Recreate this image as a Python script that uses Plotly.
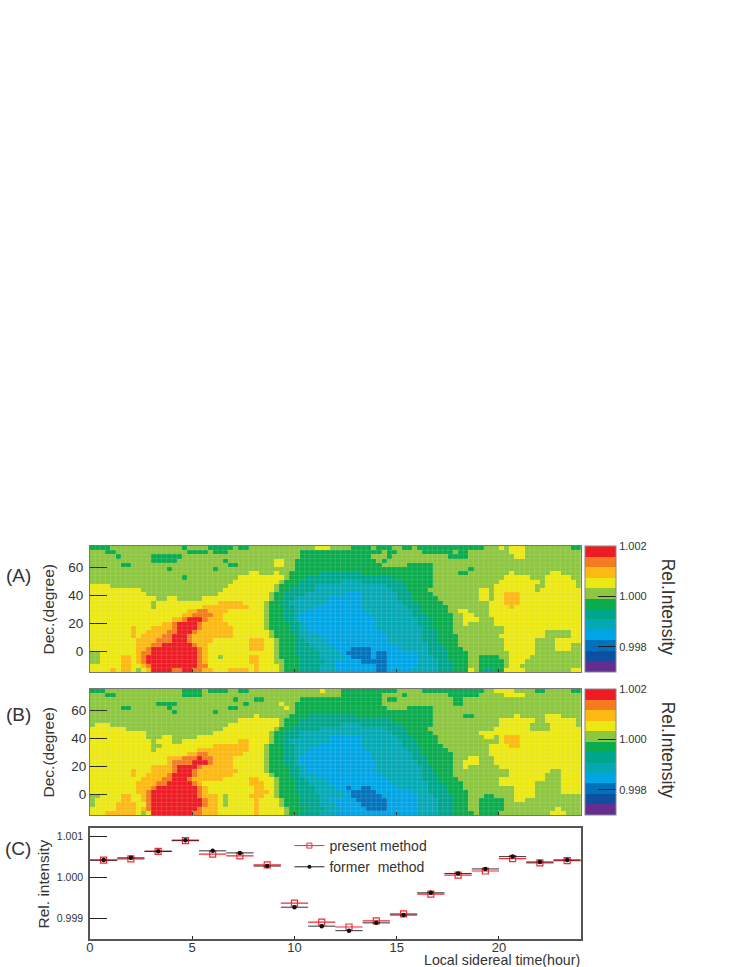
import plotly.graph_objects as go

W, H = 747, 967

LEVELS = "ROAYLGTCSMDP"
COLORS = ["#ed1c24", "#f47b20", "#fdb913", "#ece813", "#8dc63f", "#0aac4d",
          "#00a68c", "#05a9b5", "#00a5e5", "#0072bc", "#0d4fa0", "#662d91"]
Z_MIN, Z_MAX = 0.997, 1.002

ROWS_A = [
"G0 L4 G18 L19 G23 L28 G29 L31 Y44 L47 G51 L55 G56 L59 G61 L63 G64 L77 Y80 L81 Y82 L85 G94",
"L0 G3 L5 G19 L23 G24 L27 G41 L57 G58 L60 G65 L71 G72 L74 Y82 L85",
"L0 G5 L6 G12 L18 G41 L55 G58 L59 G70 L74 Y83 L85",
"L0 G12 L17 G26 L27 Y36 L38 G40 L56 G57 L58",
"L0 G6 L8 G27 L29 Y36 L38 G40 L57 G62 L67",
"L0 G15 L16 G24 L25 G40 L67 G74 L75",
"L0 Y31 L33 Y36 L37 G39 T45 G53 L67 G72 L74 Y82 L83 Y90 L92",
"L0 G18 L19 Y29 L38 G39 T42 G59 L67 Y81 L86 Y89 L94",
"L0 Y28 L37 G38 T41 C49 T53 G61 L67 Y80 L88 Y89 L95",
"Y0 L4 Y27 L36 G37 T40 C44 T58 G62 L67 Y79 L87 Y89 L95",
"Y0 L10 Y26 L36 G37 T39 C44 T59 G62 L66 Y76 L78 Y79 L87 Y88",
"Y0 L11 Y25 L35 G36 T38 C42 S50 C53 T60 G63 L67 Y76 L78 Y79 A81 Y84",
"Y0 L13 Y15 L17 Y22 L35 G36 T38 C40 S47 C53 T60 G63 L68 Y76 L78 Y79 A81 Y84",
"Y0 L12 Y13 A25 Y30 L34 G35 T37 C39 S46 C53 T61 G64 L69 Y78 A81 Y84",
"Y0 L12 Y13 A22 Y31 L34 G35 T38 C40 S44 C53 T62 G65 L70 Y78 A82 Y83",
"Y0 A19 O21 A23 Y27 L34 G35 T38 C40 S42 C54 T63 G65 L70 Y72 L74 Y78",
"Y0 A18 O20 A24 Y26 L34 G35 T38 C40 S41 C55 T63 G66 L71 Y73 L75 Y78",
"Y0 A16 O18 R19 O22 A23 Y26 L34 G35 T38 C40 S41 C56 T64 G67 L71 Y73 L76 Y79",
"Y0 A14 O16 R17 O21 A22 Y27 L34 G35 T39 C41 S42 C56 T64 G66 L71 Y73 L74 Y79",
"Y0 A8 Y9 A12 O16 R17 O21 A22 Y28 L34 G35 T39 C41 S42 C56 T65 G67 L71 Y81",
"Y0 A8 Y9 A11 O15 R17 O20 A21 Y28 L35 G36 T39 C41 S43 C57 T65 G68 L71 Y81 L89 Y94",
"Y0 A8 Y9 A10 O14 R16 O19 A20 Y28 L35 G36 T40 C41 S45 C58 T65 G68 L72 Y80 L89 Y94",
"Y0 A9 O13 R16 O19 A20 Y24 A31 Y34 L36 G37 T40 C42 S46 C58 T65 G68 L72 Y81 L87 Y91",
"Y0 A9 O12 R14 O20 A21 Y23 A31 Y34 L36 G37 T40 C43 S47 C60 T66 G69 L72 Y81 L87 Y91 L94",
"Y0 A9 O11 R12 O21 A22 Y23 A31 Y34 L36 G37 T40 C44 S48 M51 S55 C61 T66 G70 L73 Y81 L87 Y91 L94",
"L0 Y2 A9 O10 R12 O21 A22 Y23 L36 G37 T40 C45 S49 M50 S55 M56 S58 C64 T66 G70 L74 Y82 L87",
"L0 Y2 A6 Y8 A9 O10 R11 O21 A22 Y23 L25 Y26 A31 Y33 L36 G37 T41 C45 S50 M51 S55 M56 S58 C64 T67 G70 L74 G76 L80 Y82 L86",
"L0 Y2 A6 Y8 A9 O10 R11 O21 A22 Y23 A31 Y33 L36 G38 T41 C46 S48 M53 S58 C64 T68 G71 L74 G76 L81 Y82 L85",
"Y0 A6 Y8 A10 O11 R12 O21 Y23 A32 Y33 L37 G38 T41 C45 S48 M56 S58 C64 T68 G71 L74 G76 L81 Y82 L84",
"Y0 A4 Y5 A6 Y8 L9 Y10 A11 R12 O16 R18 O20 A22 Y24 A27 Y31 A32 Y33 L37 G38 T41 C45 S48 M56 S58 C63 T68 G71 Y74 L75 G76 T77 G79 Y81 L85 Y94",
]

ROWS_B = [
"G0 L3 G18 L22 G23 L27 G29 L31 Y45 L46 G49 L60 G65 L77 Y79 L83 G87 L89 G94",
"L0 G3 L5 G18 L22 G49 L57 G61 L62 G70 L76 Y81 L85",
"L0 G28 L29 G32 L34 G41 L57 G58 L60 G71 L73",
"L0 G13 L17 G30 L31 Y37 L38 G40 L57 G71 L73",
"L0 G6 L8 G15 L16 G27 L29 Y38 L39 G40 L58 G62 L67",
"L0 G16 L17 G24 L25 G40 L67",
"L0 Y32 L33 G39 T43 G52 L67 G73 L75 Y83 L84 Y89 L92",
"L0 Y29 L37 G38 T41 G59 L67 Y80 L87 Y89 L95",
"L0 Y1 L4 Y27 L37 G38 T40 C49 T53 G61 L67 Y80 L86 Y90 L95",
"Y0 L7 Y26 L36 G37 T39 C45 T58 G62 L66 Y79 L86 Y90",
"Y0 L11 Y24 L35 G36 T38 C41 T59 G62 L67 Y76",
"Y0 L11 Y14 L16 Y21 L35 G36 T38 C41 S47 C53 T60 G63 L68 Y77 L79 Y80 A81 Y84",
"Y0 L12 Y13 L16 Y18 A29 Y31 L35 G36 T37 C39 S47 C53 T61 G64 L68 Y80 A81 Y84",
"Y0 L12 Y14 A24 Y31 L34 G35 T38 C40 S45 C53 T61 G64 L69 Y78 A82 Y84",
"Y0 L12 Y13 A21 Y31 L34 G35 T38 C40 S43 C54 T62 G65 L70 Y78",
"Y0 A19 O21 A23 Y30 L34 G35 T38 C40 S42 C55 T63 G65 L71 Y78",
"Y0 A15 O18 R21 O22 A24 Y28 L34 G35 T38 C40 S41 C55 T63 G66 L71 Y74 L76 Y79",
"Y0 A15 O16 R20 O23 A24 Y28 L34 G35 T38 C40 S41 C56 T64 G66 L71 Y73 L76 Y79",
"Y0 A12 O16 R17 O21 A22 Y28 L34 G35 T39 C41 S42 C56 T65 G67 L71 Y73 L74 Y80",
"Y0 A8 Y9 A12 O16 R17 O20 A21 Y29 L34 G35 T39 C41 S42 C56 T65 G67 L71 Y82 L90 Y92",
"Y0 A8 Y9 A11 O15 R16 O20 A21 Y28 L35 G36 T39 C41 S44 C57 T65 G68 L71 Y82 L89 Y92",
"Y0 A10 O14 R16 O19 A20 Y26 A31 Y33 L36 G37 T40 C42 S46 C58 T65 G68 L72 Y80 L89 Y92",
"Y0 A9 O13 R15 O20 A21 Y22 A31 Y34 L36 G37 T40 C43 S47 C59 T66 G69 L73 Y80 L87 Y92",
"Y0 A9 O12 R13 O21 A22 Y23 A32 Y34 L36 G37 T40 C44 S48 M50 S51 M53 S55 C60 T66 G70 L73 Y83 L87 Y92",
"Y0 A9 O11 R12 O21 A22 Y23 A32 Y35 L36 G37 T40 C44 S49 M51 S56 C63 T66 G70 L74 Y83 L87 Y92",
"L0 Y2 A6 Y8 A10 O11 R12 O21 A22 Y25 L26 Y27 A31 Y34 L36 G37 T41 C45 S50 M51 S57 C64 T67 G71 L74 G77 L79 Y83 L87",
"L0 Y1 A6 Y8 A10 O11 R12 O22 A23 Y25 L26 Y27 A32 Y33 L37 G38 T41 C45 S47 M52 S58 C64 T68 G71 L74 G76 L81 Y83 L85",
"L0 Y1 A5 Y9 O11 R12 O22 A23 Y25 L26 Y27 A32 Y33 L37 G38 T41 C45 S48 M53 S58 C64 T68 G71 L74 G76 L81",
"Y0 A5 Y9 A10 O11 R12 O21 A22 Y25 A32 Y33 L38 G39 T42 C46 S49 M54 S58 C64 T68 G71 L74 G76 L81 Y91 L92",
"Y0 A3 Y9 L10 Y11 R12 O20 A22 Y25 A32 Y33 L38 G39 T41 C45 S48 C64 T68 G71 L75 G76 L80 Y90 L93",
]

LST_BINS = [0.667, 2.0, 3.333, 4.667, 6.0, 7.333, 8.667, 10.0, 11.333,
            12.667, 14.0, 15.333, 16.667, 18.0, 19.333, 20.667, 22.0, 23.333]
PRESENT = [1.000415, 1.000447, 1.000626, 1.000886, 1.00056, 1.00052, 1.0003, 0.99937, 0.99891,
           0.99879, 0.99894, 0.99911, 0.99959, 1.00005, 1.00015, 1.00045, 1.00035, 1.0004]
FORMER = [1.000415, 1.00047, 1.00063, 1.0009, 1.00064, 1.00059, 1.00027, 0.99927, 0.99881,
          0.9987, 0.99889, 0.99908, 0.99962, 1.00009, 1.0002, 1.0005, 1.00037, 1.00042]
BIN_HALF = 0.667

N_COLS, N_ROWS = 96, 30
band = (Z_MAX - Z_MIN) / len(LEVELS)


def X(px):
    return (px - 3.5) / 0.995 / W


def decode(rows):
    grid = []
    for row in rows:
        runs = [(p[0], int(p[1:])) for p in row.split()]
        values = [None] * N_COLS
        for k, (lev, start) in enumerate(runs):
            end = runs[k + 1][1] if k + 1 < len(runs) else N_COLS
            for c in range(start, end):
                values[c] = Z_MAX - (LEVELS.index(lev) + 0.5) * band
        grid.append(values)
    return grid


scale = []
n = len(COLORS)
for i, c in enumerate(reversed(COLORS)):
    scale += [[i / n, c], [(i + 1) / n, c]]

x_cells = [(i + 0.5) * 0.25 for i in range(N_COLS)]
y_cells = [75 - 1.5 - 3 * r for r in range(N_ROWS)]

L, R = 89.5, 580.5
PANELS = {"A": (546, 672), "B": (689, 815), "C": (828, 938.5)}


def dom(top, bot):
    return [1 - bot / H, 1 - top / H]


def cbar(top):
    return dict(x=X(585), xanchor="left", y=1 - top / H, yanchor="top",
                lenmode="pixels", len=126, thicknessmode="pixels", thickness=31,
                xpad=0, ypad=0, outlinecolor="#888", outlinewidth=1,
                tickvals=[0.998, 1.0, 1.002], ticktext=["0.998", "1.000", "1.002"],
                ticks="inside", ticklen=18, tickcolor="#222", tickwidth=1,
                tickfont=dict(size=11, color="#333", family="Liberation Sans"))


fig = go.Figure()
fig.add_trace(go.Heatmap(z=decode(ROWS_A), x=x_cells, y=y_cells, colorscale=scale, zmin=Z_MIN, zmax=Z_MAX,
                         xaxis="x", yaxis="y", colorbar=cbar(546)))
fig.add_trace(go.Heatmap(z=decode(ROWS_B), x=x_cells, y=y_cells, colorscale=scale, zmin=Z_MIN, zmax=Z_MAX,
                         xaxis="x2", yaxis="y2", colorbar=cbar(689)))

RED, BLK = "#ee2a35", "rgba(15,15,15,0.85)"
fig.add_trace(go.Scatter(x=LST_BINS, y=PRESENT, mode="markers", xaxis="x3", yaxis="y3", showlegend=False,
                         marker=dict(symbol="square-open", size=6, color=RED, line=dict(width=1.2, color=RED)),
                         error_x=dict(type="constant", value=BIN_HALF, color=RED, thickness=1.2, width=0)))
fig.add_trace(go.Scatter(x=LST_BINS, y=FORMER, mode="markers", xaxis="x3", yaxis="y3", showlegend=False,
                         marker=dict(symbol="circle", size=4.5, color="#111"),
                         error_x=dict(type="constant", value=BIN_HALF, color=BLK, thickness=1, width=0)))
fig.add_trace(go.Scatter(x=[None], y=[None], mode="lines+markers", name="present method", xaxis="x3", yaxis="y3",
                         line=dict(color=RED, width=1), marker=dict(symbol="square-open", size=5, color=RED)))
fig.add_trace(go.Scatter(x=[None], y=[None], mode="lines+markers", name="former  method", xaxis="x3", yaxis="y3",
                         line=dict(color="#222", width=1), marker=dict(symbol="circle", size=4, color="#111")))

FONT = "Liberation Sans"
thin = dict(showline=True, mirror=True, linecolor="#777", linewidth=1, showgrid=False, zeroline=False)
thick = dict(showline=True, mirror=True, linecolor="#555", linewidth=1.5, showgrid=False, zeroline=False)
xcommon = dict(range=[0, 24], tickvals=[0, 5, 10, 15, 20], ticks="inside", ticklen=3, tickcolor="#222",
               domain=[X(L), X(R)])
ycommon = dict(ticks="inside", ticklen=17, tickcolor="#222", tickwidth=1)
yfont = dict(size=13.5, color="#333", family=FONT)

fig.update_layout(
    width=W, height=H, margin=dict(l=0, r=0, t=0, b=0), paper_bgcolor="white", plot_bgcolor="white",
    font=dict(family=FONT, color="#333"),
    xaxis=dict(anchor="y", showticklabels=False, **xcommon, **thin),
    xaxis2=dict(anchor="y2", showticklabels=False, **xcommon, **thin),
    xaxis3=dict(anchor="y3", tickfont=dict(size=13, color="#333", family=FONT), ticklabelstandoff=-4, **xcommon, **thick),
    yaxis=dict(domain=dom(*PANELS["A"]), anchor="x", range=[-15, 75], tickvals=[0, 20, 40, 60], tickfont=yfont,
               ticklabelstandoff=3, **ycommon, **thin),
    yaxis2=dict(domain=dom(*PANELS["B"]), anchor="x2", range=[-15, 75], tickvals=[0, 20, 40, 60], tickfont=yfont,
                **ycommon, **thin),
    yaxis3=dict(domain=dom(*PANELS["C"]), anchor="x3", range=[0.99851, 1.001195], tickvals=[0.999, 1.0, 1.001],
                ticktext=["0.999", "1.000", "1.001"], tickfont=dict(size=10.5, color="#333", family=FONT),
                ticklabelstandoff=3, **ycommon, **thick),
    legend=dict(x=X(289), y=1 - 830 / H, xanchor="left", yanchor="top", bgcolor="rgba(0,0,0,0)",
                font=dict(size=14, color="#333", family=FONT), itemwidth=30),
)

# faint cell grid seen over both maps
grid_path = "".join(f"M{i * 0.25},-15L{i * 0.25},75" for i in range(1, N_COLS))
grid_path += "".join(f"M0,{75 - 3 * r}L24,{75 - 3 * r}" for r in range(1, N_ROWS))
for xa, ya in (("x", "y"), ("x2", "y2")):
    fig.add_shape(type="path", path=grid_path, xref=xa, yref=ya, layer="above",
                  line=dict(color="rgba(255,255,255,0.12)", width=1))


def note(text, x, y, size, angle=0, xanchor="center"):
    fig.add_annotation(text=text, x=X(x), y=1 - y / H, xref="paper", yref="paper", showarrow=False,
                       font=dict(size=size, color="#333", family=FONT), textangle=angle,
                       xanchor=xanchor, yanchor="middle")


note("(A)", 18, 575, 19)
note("(B)", 18, 714, 19)
note("(C)", 18, 848, 19)
note("Dec.(degree)", 48, 609, 15.5, -90)
note("Dec.(degree)", 48, 752, 15.5, -90)
note("Rel. intensity", 43, 884, 15.5, -90)
note("Rel.Intensity", 668, 607, 17.5, 90)
note("Rel.Intensity", 668, 750, 17.5, 90)
note("Local sidereal time(hour)", 582, 960, 14.2, 0, "right")

fig.write_html("out.html", config={"displayModeBar": False}, post_script="document.body.style.margin='0';")
